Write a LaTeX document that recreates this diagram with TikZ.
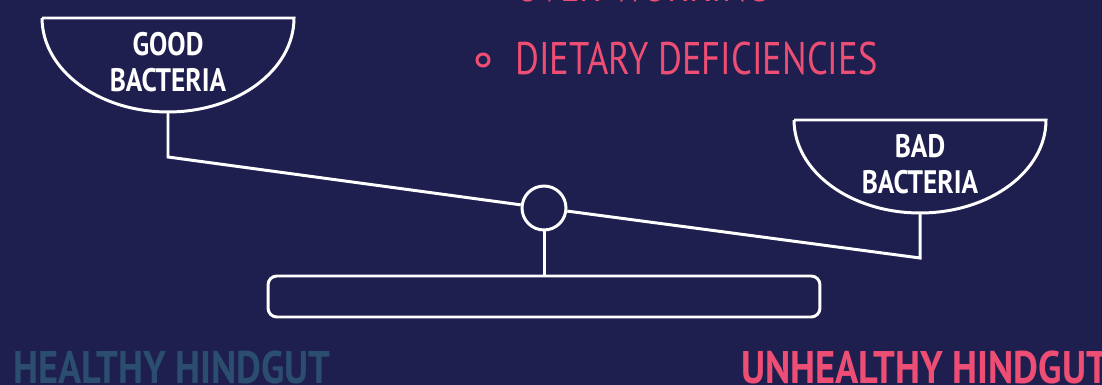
\documentclass[tikz,border=0pt]{standalone}
\usepackage{fontspec}
\setmainfont{PT Sans}
\newfontfamily\narrowfont[FakeStretch=0.8]{PT Sans}
\newfontfamily\boldnarrowfont[FakeStretch=0.84]{PT Sans}
\definecolor{bgnavy}{HTML}{1E1F4E}
\definecolor{hotpink}{HTML}{EE4E74}
\definecolor{slateteal}{HTML}{2B4D6E}

\begin{document}
\begin{tikzpicture}[x=0.02cm, y=-0.02cm,
            scaleline/.style={draw=white, line width=1.7pt},
            bowltext/.style={text=white, font=\boldnarrowfont\bfseries\fontsize{18.5}{20.5}\selectfont, align=center},
            listitem/.style={text=hotpink, font=\narrowfont\fontsize{26}{30}\selectfont, anchor=base west, inner sep=0pt},
            verdict/.style={font=\boldnarrowfont\bfseries\fontsize{26}{30}\selectfont, anchor=base west, inner sep=0pt}
        ]
        \fill[bgnavy] (0,0) rectangle (1102,385);
        \useasboundingbox (0,0) rectangle (1102,385);
        \clip (0,0) rectangle (1102,385);

        % list of causes (first line cut by the frame)
        \node[listitem] (overwork) at (515,2) {OVER-WORKING};
        \node[draw=hotpink, line width=1.7pt, circle, minimum size=0.24cm, inner sep=0pt] (dot) at (483,60) {};
        \node[listitem] (diet) at (515,75) {DIETARY DEFICIENCIES};

        % pans
        \draw[scaleline] (42,18) -- (294,18) arc[start angle=0, end angle=-180, x radius=2.52cm, y radius=1.88cm] -- cycle;
        \draw[scaleline] (794,120) -- (1046,120) arc[start angle=0, end angle=-180, x radius=2.52cm, y radius=1.86cm] -- cycle;
        \node[bowltext] (good) at (168,62) {GOOD\\BACTERIA};
        \node[bowltext] (bad) at (920,164) {BAD\\BACTERIA};

        % beam, pivot and stand
        \coordinate (goodtip) at (168,112);
        \coordinate (goodhang) at (168,157);
        \coordinate (badtip) at (920,213);
        \coordinate (badhang) at (920,258);
        \node[scaleline, circle, minimum size=0.88cm, inner sep=0pt] (pivot) at (544,208) {};
        \node[scaleline, rounded corners=5pt, minimum width=11.04cm, minimum height=0.82cm, inner sep=0pt] (stand) at (544,296.5) {};
        \draw[scaleline] (goodtip) -- (goodhang) -- (pivot);
        \draw[scaleline] (pivot) -- (badhang) -- (badtip);
        \draw[scaleline] (pivot.south) -- (stand.north);

        \node[verdict, text=slateteal] (healthy) at (13,383) {HEALTHY HINDGUT};
        \node[verdict, text=hotpink] (unhealthy) at (741,383) {UNHEALTHY HINDGUT};
    \end{tikzpicture}
\end{document}
